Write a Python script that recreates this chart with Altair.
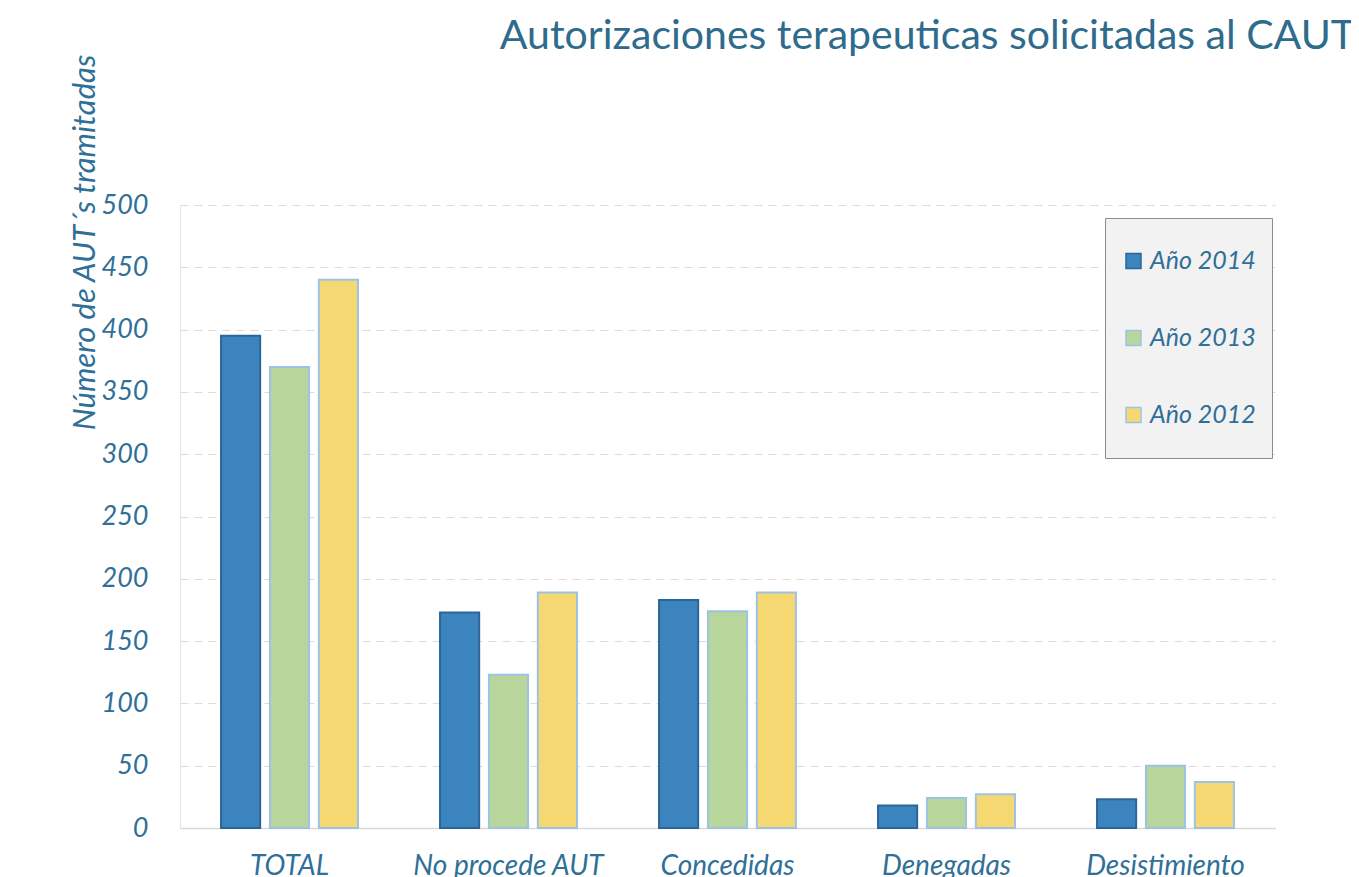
import altair as alt
import pandas as pd

categories = ["TOTAL", "No procede AUT", "Concedidas", "Denegadas", "Desistimiento"]
years = ["Año 2014", "Año 2013", "Año 2012"]
v2014 = [395, 173, 183, 18, 23]
v2013 = [370, 123, 174, 24, 50]
v2012 = [440, 189, 189, 27, 37]

rows = []
for i, c in enumerate(categories):
    for y, vals in zip(years, [v2014, v2013, v2012]):
        rows.append({"cat": c, "year": y, "value": vals[i]})
df = pd.DataFrame(rows)

FONT = "Lato"
TXT = "#2f6f98"

bars = alt.Chart(df).mark_bar(strokeWidth=2).encode(
    x=alt.X("cat:N", sort=categories,
            scale=alt.Scale(paddingInner=0.33, paddingOuter=0.165),
            axis=alt.Axis(title=None, labelAngle=0, labelFontSize=28, labelFont=FONT,
                          labelFontStyle="italic", labelColor=TXT, labelPadding=24,
                          labelLimit=400, ticks=False, domainColor="#d9d9d9", domainWidth=1.5,
                          labelBaseline="top")),
    xOffset=alt.XOffset("year:N", sort=years,
                        scale=alt.Scale(domain=years, paddingInner=0.2, paddingOuter=0.1)),
    y=alt.Y("value:Q",
            scale=alt.Scale(domain=[0, 500]),
            axis=alt.Axis(title="Número de AUT´s tramitadas", values=list(range(0, 501, 50)),
                          labelFontSize=27, labelFont=FONT, labelFontStyle="italic",
                          labelColor=TXT, labelPadding=32, ticks=False,
                          domain=True, domainColor="#e6e6e6", domainWidth=1,
                          gridColor="#dcdcdc", gridDash=[8, 6], gridWidth=1.2,
                          titleFont=FONT, titleFontSize=31, titleFontStyle="italic",
                          titleFontWeight="normal", titleColor=TXT, titleAngle=-90,
                          titleX=-95, titleY=37, titleAlign="center", titleBaseline="middle")),
    color=alt.Color("year:N", sort=years,
                    scale=alt.Scale(domain=years, range=["#3b84be", "#b8d59b", "#f6d873"]),
                    legend=alt.Legend(title=None, orient="none", legendX=925, legendY=13,
                                      labelFont=FONT, labelFontSize=25, labelFontStyle="italic",
                                      labelColor=TXT, symbolType="square", symbolSize=225,
                                      symbolStrokeWidth=1.5, rowPadding=23, padding=16,
                                      clipHeight=54, labelOffset=4,
                                      fillColor="#f2f2f2", strokeColor="#8c8c8c")),
    stroke=alt.Stroke("year:N", sort=years,
                      scale=alt.Scale(domain=years, range=["#2c6699", "#9cc3e6", "#9cc3e6"]),
                      legend=alt.Legend(title=None, orient="none", legendX=925, legendY=13)),
)

chart = bars.properties(
    width=1095, height=623,
    title=alt.TitleParams("Autorizaciones terapeuticas solicitadas al CAUT", anchor="end",
                          frame="group", font=FONT, fontSize=41, fontWeight="normal",
                          color="#2e6b8c", offset=-36, dx=80, baseline="alphabetic"),
    autosize=alt.AutoSizeParams(type="none"),
    padding={"left": 172, "top": 197, "right": 76, "bottom": 49},
).configure_view(stroke=None)

chart.save("out.html", embed_options={"renderer": "svg", "actions": False})
